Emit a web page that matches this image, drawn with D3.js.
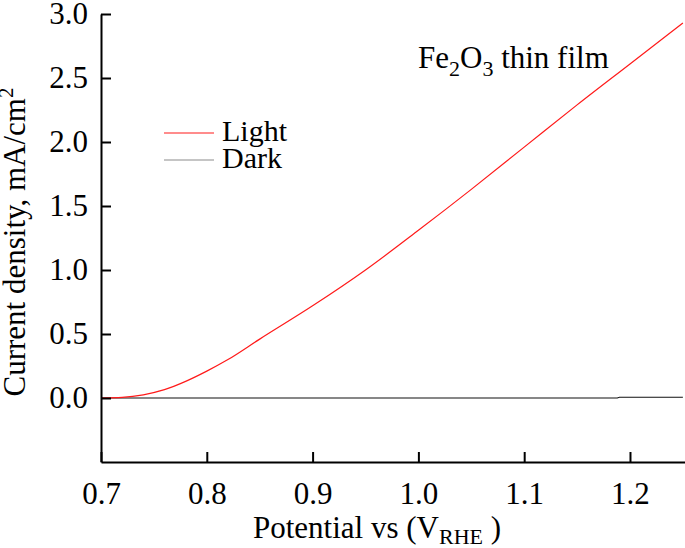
<!DOCTYPE html>
<html>
<head>
<meta charset="utf-8">
<script src="https://cdn.jsdelivr.net/npm/d3@7"></script>
<style>
  body { margin: 0; background: #fff; }
</style>
</head>
<body>
<div id="chart"></div>
<script>
// data
const potential = [0.70, 0.72, 0.74, 0.76, 0.78, 0.80, 0.82, 0.85, 0.90, 0.95, 1.00, 1.05, 1.10, 1.15, 1.20, 1.25];
const lightCurrent = [0.00, 0.005, 0.025, 0.065, 0.13, 0.21, 0.30, 0.46, 0.72, 1.00, 1.31, 1.63, 1.96, 2.29, 2.61, 2.93];
const darkPotential = [0.70, 0.80, 0.90, 1.00, 1.10, 1.188, 1.19, 1.25];
const darkCurrent = [0.0, 0.0, 0.0, 0.0, 0.0, 0.0, 0.006, 0.006];
const xTicks = [0.7, 0.8, 0.9, 1.0, 1.1, 1.2];
const yTicks = [0.0, 0.5, 1.0, 1.5, 2.0, 2.5, 3.0];
const legendItems = [
  {label: "Light", color: "#ff1a1a"},
  {label: "Dark", color: "#8c8c8c"}
];

const FONT = "'Liberation Serif'";
const width = 685, height = 548;
const svg = d3.select("#chart").append("svg")
    .attr("width", width).attr("height", height);

const x = d3.scaleLinear().domain([0.7, 1.252]).range([101, 685]);
const y = d3.scaleLinear().domain([-0.5, 3.0]).range([462, 14]);

// lines
const line = d3.line().x(d => x(d[0])).y(d => y(d[1]));

svg.append("path")
    .datum(d3.zip(darkPotential, darkCurrent))
    .attr("d", line)
    .attr("fill", "none")
    .attr("stroke", "#111")
    .attr("stroke-width", 1.1);

svg.append("path")
    .datum(d3.zip(potential, lightCurrent))
    .attr("d", d3.line().curve(d3.curveMonotoneX).x(d => x(d[0])).y(d => y(d[1])))
    .attr("fill", "none")
    .attr("stroke", "#ff1a1a")
    .attr("stroke-width", 1.2);

// axes, ticks pointing in
const xAxis = svg.append("g")
    .attr("transform", `translate(0,${y(-0.5)})`)
    .call(d3.axisBottom(x).tickValues(xTicks).tickSize(-10).tickSizeOuter(0)
        .tickPadding(20).tickFormat(d3.format(".1f")));

const yAxis = svg.append("g")
    .attr("transform", `translate(${x(0.7)},0)`)
    .call(d3.axisLeft(y).tickValues(yTicks).tickSize(-10).tickSizeOuter(0)
        .tickPadding(13).tickFormat(d3.format(".1f")));

[xAxis, yAxis].forEach(g => {
  g.select(".domain").attr("stroke", "#000").attr("stroke-width", 2);
  g.selectAll(".tick line").attr("stroke", "#000").attr("stroke-width", 2);
  g.selectAll(".tick text")
      .attr("fill", "#000")
      .style("font-family", FONT)
      .style("font-size", "31px");
});

function label(sel, size) {
  return sel.style("font-family", FONT).style("font-size", size + "px").attr("fill", "#000");
}

// axis titles
const xTitle = label(svg.append("text"), 31)
    .attr("x", 377).attr("y", 538)
    .attr("text-anchor", "middle");
xTitle.append("tspan").text("Potential vs (V");
xTitle.append("tspan").attr("dy", 6).style("font-size", "22px").text("RHE");
xTitle.append("tspan").attr("dy", -6).text(" )");

const yTitle = label(svg.append("text"), 31)
    .attr("transform", "translate(25,242) rotate(-90)")
    .attr("text-anchor", "middle");
yTitle.append("tspan").text("Current density, mA/cm");
yTitle.append("tspan").attr("dy", -12).style("font-size", "21px").text("2");

// annotation
const note = label(svg.append("text"), 31)
    .attr("x", 418).attr("y", 68);
note.append("tspan").text("Fe");
note.append("tspan").attr("dy", 8).style("font-size", "22px").text("2");
note.append("tspan").attr("dy", -8).text("O");
note.append("tspan").attr("dy", 8).style("font-size", "22px").text("3");
note.append("tspan").attr("dy", -8).text(" thin film");

// legend
const legend = svg.append("g");
const rows = legend.selectAll("g").data(legendItems).join("g")
    .attr("transform", (d, i) => `translate(164,${133 + i * 27})`);
rows.append("line")
    .attr("x1", 0).attr("x2", 50)
    .attr("stroke", d => d.color).attr("stroke-width", 1.2);
label(rows.append("text"), 30)
    .attr("x", 58).attr("y", 8)
    .text(d => d.label);
</script>
</body>
</html>
